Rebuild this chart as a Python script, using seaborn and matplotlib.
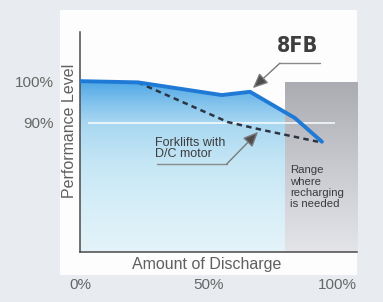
import numpy as np
import pandas as pd
import matplotlib.pyplot as plt
import seaborn as sns
from matplotlib.colors import LinearSegmentedColormap
from matplotlib.patches import Rectangle, Polygon

# values (x: % discharge, y: % performance)
discharge_8fb = [0, 22.5, 55, 66, 83.4, 93.9]
perf_8fb = [100.2, 99.9, 96.8, 97.6, 91.2, 85.4]
discharge_dc = [22.5, 57.4, 70.6, 92.4]
perf_dc = [99.9, 90.2, 88.3, 85.4]
x_ticks = [0, 50, 100]
x_labels = ['0%', '50%', '100%']
y_ticks = [90, 100]
y_labels = ['90%', '100%']
recharge_start = 79.5
ref_level = 90

xmin, xmax = 0, 107.5
ymin, ymax = 58.5, 112.2

sns.set_theme(style='white')
plt.rcParams['font.family'] = ['Liberation Sans', 'DejaVu Sans']

fig = plt.figure(figsize=(3.83, 3.02), dpi=100, facecolor='#e8ecf0')
fig.patches.append(Rectangle((0.157, 0.089), 0.775, 0.878, transform=fig.transFigure,
                             facecolor='#fdfdfd', edgecolor='none', zorder=-1))
ax = fig.add_axes([0.209, 0.166, 0.723, 0.728])
ax.set_facecolor('none')

# gradient fill under the 8FB curve
fill_cmap = LinearSegmentedColormap.from_list(
    'fill', [(0, '#e4f3f9'), (0.28, '#d6eef8'), (0.52, '#c5e6f5'),
             (0.76, '#a8d7f1'), (0.88, '#7fc1ec'), (1, '#4fa8e6')])
grad = np.linspace(0, 1, 256).reshape(-1, 1)
verts = list(zip(discharge_8fb, perf_8fb)) + [(discharge_8fb[-1], ymin), (discharge_8fb[0], ymin)]
clip = Polygon(verts, closed=True, transform=ax.transData, facecolor='none', edgecolor='none')
ax.add_patch(clip)
im = ax.imshow(grad, cmap=fill_cmap, origin='lower', aspect='auto', zorder=1,
               extent=[discharge_8fb[0], discharge_8fb[-1], ymin, max(perf_8fb)])
im.set_clip_path(clip)

# grey "recharging needed" zone
grey_cmap = LinearSegmentedColormap.from_list('grey', ['#e3e5e9', '#c8cad0', '#aaacb2'])
ax.imshow(grad, cmap=grey_cmap, origin='lower', aspect='auto', zorder=2,
          extent=[recharge_start, xmax, ymin, 100])

ax.hlines(ref_level, 3, 99, color='#f3f9fc', lw=1.2, zorder=3)

df_8fb = pd.DataFrame({'discharge': discharge_8fb, 'performance': perf_8fb})
df_dc = pd.DataFrame({'discharge': discharge_dc, 'performance': perf_dc})
sns.lineplot(data=df_dc, x='discharge', y='performance', ax=ax, color='#2b3440',
             lw=1.8, linestyle=(0, (2.2, 1.7)), zorder=4)
sns.lineplot(data=df_8fb, x='discharge', y='performance', ax=ax, color='#1f7ad6',
             lw=2.8, zorder=5)

# callout arrows
ax.plot([93.1, 77.6], [104.6, 104.6], color='#8a8a8a', lw=1, zorder=6)
ax.annotate('', xy=(67.1, 98.5), xytext=(77.6, 104.6), zorder=6,
            arrowprops=dict(arrowstyle='-|>,head_length=0.9,head_width=0.4',
                            facecolor='#4d4d4d', edgecolor='#7a7a7a', lw=1,
                            shrinkA=0, shrinkB=0, mutation_scale=10))
ax.plot([29.9, 57.0], [80, 80], color='#8a8a8a', lw=1, zorder=6)
ax.annotate('', xy=(69.1, 87.8), xytext=(57.0, 80), zorder=6,
            arrowprops=dict(arrowstyle='-|>,head_length=0.9,head_width=0.4',
                            facecolor='#4d4d4d', edgecolor='#7a7a7a', lw=1,
                            shrinkA=0, shrinkB=0, mutation_scale=10))

ax.text(84.6, 108.8, '8FB', ha='center', va='center', fontsize=15.5, fontweight='bold',
        fontstretch='condensed', family=['DejaVu Sans'], color='#3e3e3e', zorder=7)
ax.text(29.1, 86.6, 'Forklifts with\nD/C motor', ha='left', va='top', fontsize=9,
        linespacing=0.95, color='#3d3d3d', zorder=7)
ax.text(81.5, 79.6, 'Range\nwhere\nrecharging\nis needed', ha='left', va='top',
        fontsize=8.2, linespacing=1.15, color='#3a3a3a', zorder=7)

ax.set_xlim(xmin, xmax)
ax.set_ylim(ymin, ymax)
ax.set_xticks(x_ticks, x_labels)
ax.set_yticks(y_ticks, y_labels)
ax.tick_params(length=0, pad=19, labelsize=11, labelcolor='#666666')
ax.set_xlabel('Amount of Discharge', fontsize=11.5, color='#606060')
ax.set_ylabel('Performance Level', fontsize=11.5, color='#606060')
ax.xaxis.set_label_coords(0.457, -0.023)
ax.yaxis.set_label_coords(-0.01, 0.55)

sns.despine(ax=ax)
for side in ['left', 'bottom']:
    ax.spines[side].set_color('#4a4a4a')
    ax.spines[side].set_linewidth(1.1)

fig.savefig('out.png', dpi=100, facecolor=fig.get_facecolor())
